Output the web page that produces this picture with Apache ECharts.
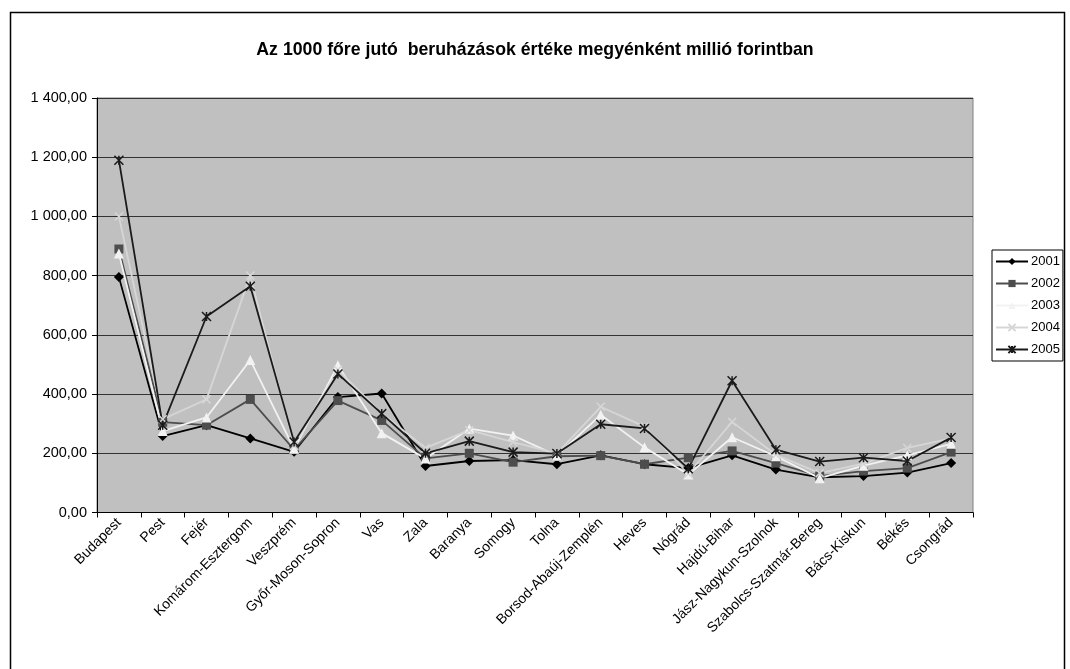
<!DOCTYPE html>
<html>
<head>
<meta charset="utf-8">
<script src="https://cdn.jsdelivr.net/npm/echarts@6/dist/echarts.min.js"></script>
<style>
html,body{margin:0;padding:0;background:#fff;}
#chart{width:1070px;height:669px;}
</style>
</head>
<body>
<div id="chart"></div>
<script>
var categories = ["Budapest","Pest","Fejér","Komárom-Esztergom","Veszprém","Győr-Moson-Sopron","Vas","Zala","Baranya","Somogy","Tolna","Borsod-Abaúj-Zemplén","Heves","Nógrád","Hajdú-Bihar","Jász-Nagykun-Szolnok","Szabolcs-Szatmár-Bereg","Bács-Kiskun","Békés","Csongrád"];
var s2001 = [795, 258, 295, 250, 205, 390, 402, 157, 174, 177, 163, 193, 163, 150, 193, 145, 119, 123, 135, 167];
var s2002 = [890, 305, 295, 382, 212, 378, 311, 183, 200, 170, 190, 192, 163, 185, 208, 167, 123, 140, 150, 204];
var s2003 = [875, 275, 321, 515, 215, 497, 268, 182, 283, 260, 192, 330, 220, 128, 254, 190, 116, 158, 193, 232];
var s2004 = [1000, 315, 382, 800, 225, 482, 335, 218, 278, 238, 200, 357, 290, 131, 306, 195, 133, 165, 218, 250];
var s2005 = [1190, 295, 662, 764, 238, 468, 334, 200, 241, 204, 199, 298, 284, 148, 445, 212, 172, 185, 174, 253];
var seriesNames = ["2001","2002","2003","2004","2005"];
var titleText = "Az 1000 főre jutó  beruházások értéke megyénként millió forintban";

var FONT = "'Liberation Sans', Arial, sans-serif";

function fmt(v){
  var s = v.toFixed(2).replace('.', ',');
  var parts = s.split(',');
  parts[0] = parts[0].replace(/\B(?=(\d{3})+(?!\d))/g, ' ');
  return parts.join(',');
}

var XPATH = 'path://M0,0L10,10M10,0L0,10';
var STARPATH = 'path://M0,0L10,10M10,0L0,10M5,0L5,10';

function mk(name, data, color, symbol, size, fill, lw){
  return {
    name: name, type: 'line', data: data,
    symbol: symbol, symbolSize: size,
    showSymbol: true,
    lineStyle: {color: color, width: 1.8},
    itemStyle: fill ? {color: color, borderColor: color, borderWidth: 0} : {color: 'none', borderColor: color, borderWidth: lw},
    emphasis: {disabled: true},
    animation: false
  };
}

var chart = echarts.init(document.getElementById('chart'));
chart.setOption({
  backgroundColor: '#ffffff',
  animation: false,
  textStyle: {fontFamily: FONT},
  graphic: [{
    type: 'rect', left: 8, top: 10, z: -10,
    shape: {x: 0, y: 0, width: 1054, height: 700},
    style: {fill: 'none', stroke: '#000', lineWidth: 1.5}
  }],
  title: {
    text: titleText, left: 'center', top: 36,
    textStyle: {fontFamily: FONT, fontSize: 17.7, fontWeight: 'bold', color: '#000'}
  },
  legend: {
    orient: 'vertical', left: 992, top: 250,
    data: seriesNames,
    itemWidth: 32, itemHeight: 9, itemGap: 9,
    padding: [5, 3, 5, 3],
    backgroundColor: '#fff', borderColor: '#000', borderWidth: 1,
    textStyle: {fontFamily: FONT, fontSize: 13, color: '#000', padding: [0,0,0,-2]}
  },
  grid: {
    left: 97, top: 98, width: 876, height: 414.5,
    show: true, backgroundColor: '#c0c0c0', borderColor: '#808080', borderWidth: 1,
    containLabel: false
  },
  xAxis: {
    type: 'category', data: categories, boundaryGap: true,
    axisLine: {show: true, lineStyle: {color: '#000', width: 1}},
    axisTick: {show: true, alignWithLabel: false, length: 5, lineStyle: {color: '#000'}},
    axisLabel: {rotate: 45, interval: 0, margin: 8, fontFamily: FONT, fontSize: 14, color: '#000'},
    splitLine: {show: false}
  },
  yAxis: {
    type: 'value', min: 0, max: 1400, interval: 200,
    axisLine: {show: true, lineStyle: {color: '#000', width: 1}},
    axisTick: {show: true, length: 5, lineStyle: {color: '#000'}},
    axisLabel: {formatter: fmt, margin: 10, fontFamily: FONT, fontSize: 14.5, color: '#000'},
    splitLine: {show: true, lineStyle: {color: '#333', width: 1}}
  },
  series: [
    mk('2001', s2001, '#000000', 'diamond', 10, true),
    mk('2002', s2002, '#4d4d4d', 'rect', 9, true),
    mk('2003', s2003, '#f2f2f2', 'triangle', 10, true),
    mk('2004', s2004, '#d6d6d6', XPATH, 8, false, 1.5),
    mk('2005', s2005, '#1a1a1a', STARPATH, 9, false, 1.5)
  ]
});
</script>
</body>
</html>
